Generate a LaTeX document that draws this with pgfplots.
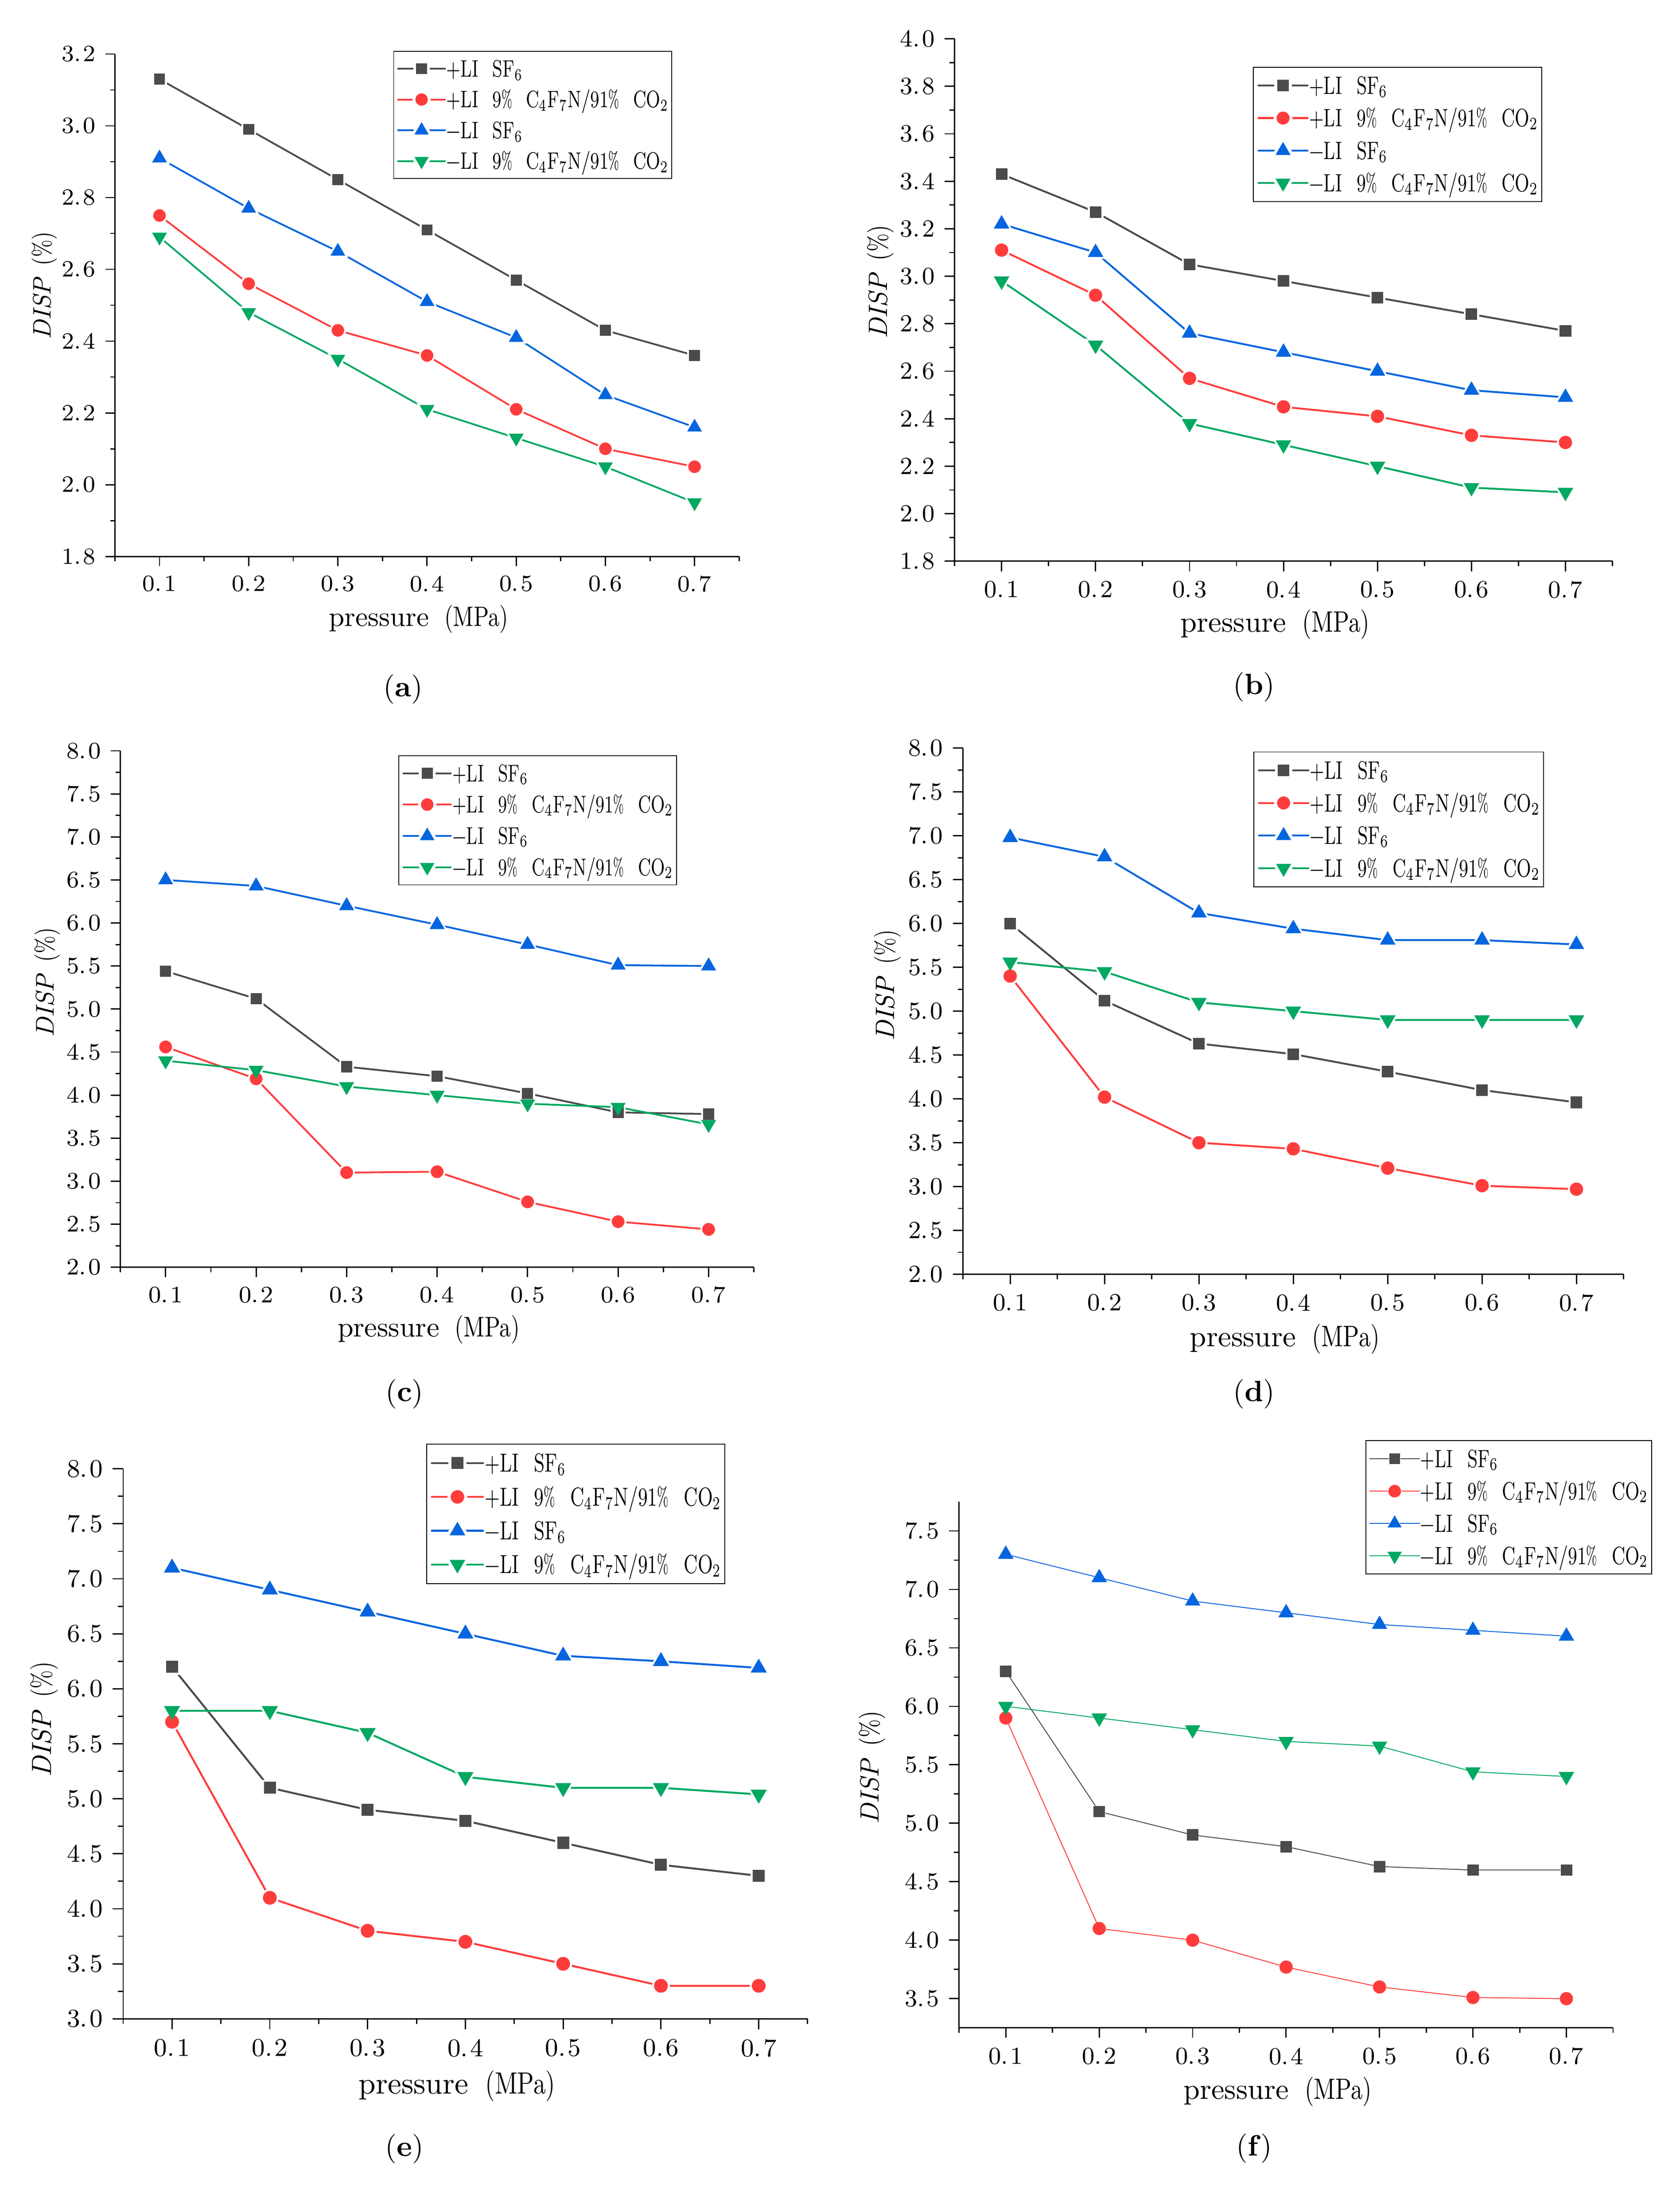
\documentclass[border=0pt]{standalone}
\usepackage{fontspec}
\setmainfont{Latin Modern Roman}
\usepackage{graphicx}
\usepackage{pgfplots}
\pgfplotsset{compat=1.18}
\definecolor{cgrey}{HTML}{4B4B4B}
\definecolor{cred}{HTML}{FF3C3C}
\definecolor{cblue}{HTML}{0465DF}
\definecolor{cgreen}{HTML}{00A862}
\def\sc{1}\def\lw{0.63}\def\hw{1.0}
\newcommand\fs[1]{\fontsize{\fpeval{#1*\sc}pt}{\fpeval{#1*\sc*1.2}pt}\selectfont}
\newcommand\gap{\hspace{0.81em}}
\newcommand\pc{\scalebox{0.7}[1]{\%}}
\newcommand\sq[1]{\scalebox{0.72}[1]{#1}}
\newcommand\eA{\sq{+LI\gap SF\textsubscript{6}}}
\newcommand\eB{\sq{+LI\gap 9\pc\gap C\textsubscript{4}F\textsubscript{7}N/91\pc\gap CO\textsubscript{2}}}
\newcommand\eC{\sq{\textminus LI\gap SF\textsubscript{6}}}
\newcommand\eD{\sq{\textminus LI\gap 9\pc\gap C\textsubscript{4}F\textsubscript{7}N/91\pc\gap CO\textsubscript{2}}}
\newcommand\dt{.\kern0.8pt}
\pgfplotsset{
 panel/.style={
  scale only axis, clip=false,
  axis x line*=bottom, axis y line*=left,
  tick align=outside,
  axis line style={line width=0.45pt, black},
  every tick/.style={black, line width=0.45pt},
  major tick length=\fpeval{3.4*\sc}pt,
  minor tick length=\fpeval{1.7*\sc}pt,
  xmin=0.05, xmax=0.75,
  xtick={0.1,0.2,0.3,0.4,0.5,0.6,0.7},
  xticklabels={0\dt1,0\dt2,0\dt3,0\dt4,0\dt5,0\dt6,0\dt7},
  minor xtick={0.05,0.15,0.25,0.35,0.45,0.55,0.65,0.75},
  minor y tick num=1,
  tick label style={font=\fs{8.3}},
  xlabel={pressure\hspace{0.55em}\scalebox{0.8}[1]{(MPa)}},
  ylabel={\textit{DISP}\hspace{0.45em}\scalebox{0.8}[1]{(\%)}},
  xlabel style={font=\fs{10}, anchor=base},
  ylabel style={font=\fs{9}, anchor=center},
  legend cell align=left,
  legend style={anchor=north west, draw=black, line width=0.3pt, fill=white,
     inner xsep=\fpeval{1.1*\sc}pt, inner ysep=\fpeval{1.2*\sc}pt,
     row sep=\fpeval{1.0*\sc}pt, font=\fs{8.5},
     nodes={inner sep=0pt, text height=\fpeval{7.9*\sc}pt, text depth=\fpeval{2.1*\sc}pt}},
  legend image code/.code={\draw[mark repeat=2,mark phase=2,##1] plot coordinates {(0pt,0pt) (\fpeval{8.575*\sc}pt,0pt) (\fpeval{17.15*\sc}pt,0pt)};},
 },
 % combined styles (legend images)
 sA/.style={draw=cgrey, line width=\fpeval{\lw*\sc}pt, mark=square*, mark size=\fpeval{(1.93+\hw/2)*\sc}pt, mark options={solid, fill=cgrey, draw=white, line width=\fpeval{\hw*\sc}pt}},
 sB/.style={draw=cred, line width=\fpeval{\lw*\sc}pt, mark=*, mark size=\fpeval{(2.22+\hw/2)*\sc}pt, mark options={solid, fill=cred, draw=white, line width=\fpeval{\hw*\sc}pt}},
 sC/.style={draw=cblue, line width=\fpeval{\lw*\sc}pt, mark=triangle*, mark size=\fpeval{(2.97+\hw)*\sc}pt, mark options={solid, fill=cblue, draw=white, line width=\fpeval{\hw*\sc}pt}},
 sD/.style={draw=cgreen, line width=\fpeval{\lw*\sc}pt, mark=triangle*, mark size=\fpeval{(2.97+\hw)*\sc}pt, mark options={solid, rotate=180, fill=cgreen, draw=white, line width=\fpeval{\hw*\sc}pt}},
 % lines with white gap marks
 lA/.style={forget plot, draw=cgrey, line width=\fpeval{\lw*\sc}pt, mark=square*, mark size=\fpeval{(1.93+\hw*0.63)*\sc}pt, mark options={solid, fill=white, draw=white, line width=0.1pt}},
 lB/.style={forget plot, draw=cred, line width=\fpeval{\lw*\sc}pt, mark=*, mark size=\fpeval{(2.22+\hw*0.63)*\sc}pt, mark options={solid, fill=white, draw=white, line width=0.1pt}},
 lC/.style={forget plot, draw=cblue, line width=\fpeval{\lw*\sc}pt, mark=triangle*, mark size=\fpeval{(2.97+\hw*1.26)*\sc}pt, mark options={solid, fill=white, draw=white, line width=0.1pt}},
 lD/.style={forget plot, draw=cgreen, line width=\fpeval{\lw*\sc}pt, mark=triangle*, mark size=\fpeval{(2.97+\hw*1.26)*\sc}pt, mark options={solid, rotate=180, fill=white, draw=white, line width=0.1pt}},
 % coloured marks only
 mA/.style={forget plot, only marks, mark=square*, mark size=\fpeval{1.88*\sc}pt, mark options={solid, fill=cgrey, draw=cgrey, line width=0.15pt}},
 mB/.style={forget plot, only marks, mark=*, mark size=\fpeval{2.17*\sc}pt, mark options={solid, fill=cred, draw=cred, line width=0.15pt}},
 mC/.style={forget plot, only marks, mark=triangle*, mark size=\fpeval{2.9*\sc}pt, mark options={solid, fill=cblue, draw=cblue, line width=0.15pt}},
 mD/.style={forget plot, only marks, mark=triangle*, mark size=\fpeval{2.9*\sc}pt, mark options={solid, rotate=180, fill=cgreen, draw=cgreen, line width=0.15pt}},
}
\pgfplotstableread{
x a b c d
0.1 3.13 2.75 2.91 2.69
0.2 2.99 2.56 2.77 2.48
0.3 2.85 2.43 2.65 2.35
0.4 2.71 2.36 2.51 2.21
0.5 2.57 2.21 2.41 2.13
0.6 2.43 2.10 2.25 2.05
0.7 2.36 2.05 2.16 1.95
}\tA
\pgfplotstableread{
x a b c d
0.1 3.43 3.11 3.22 2.98
0.2 3.27 2.92 3.10 2.71
0.3 3.05 2.57 2.76 2.38
0.4 2.98 2.45 2.68 2.29
0.5 2.91 2.41 2.60 2.20
0.6 2.84 2.33 2.52 2.11
0.7 2.77 2.30 2.49 2.09
}\tB
\pgfplotstableread{
x a b c d
0.1 5.44 4.56 6.50 4.40
0.2 5.12 4.19 6.43 4.29
0.3 4.33 3.10 6.20 4.10
0.4 4.22 3.11 5.98 4.00
0.5 4.02 2.76 5.75 3.90
0.6 3.80 2.53 5.51 3.86
0.7 3.78 2.44 5.50 3.66
}\tC
\pgfplotstableread{
x a b c d
0.1 6.00 5.40 6.98 5.56
0.2 5.12 4.02 6.76 5.45
0.3 4.63 3.50 6.12 5.10
0.4 4.51 3.43 5.94 5.00
0.5 4.31 3.21 5.81 4.90
0.6 4.10 3.01 5.81 4.90
0.7 3.96 2.97 5.76 4.90
}\tD
\pgfplotstableread{
x a b c d
0.1 6.20 5.70 7.10 5.80
0.2 5.10 4.10 6.90 5.80
0.3 4.90 3.80 6.70 5.60
0.4 4.80 3.70 6.50 5.20
0.5 4.60 3.50 6.30 5.10
0.6 4.40 3.30 6.25 5.10
0.7 4.30 3.30 6.19 5.04
}\tE
\pgfplotstableread{
x a b c d
0.1 6.30 5.90 7.30 6.00
0.2 5.10 4.10 7.10 5.90
0.3 4.90 4.00 6.90 5.80
0.4 4.80 3.77 6.80 5.70
0.5 4.63 3.60 6.70 5.66
0.6 4.60 3.51 6.65 5.44
0.7 4.60 3.50 6.60 5.40
}\tF
\newcommand\series[1]{%
\addplot[lA] table[x=x,y=a] {#1};
\addplot[lB] table[x=x,y=b] {#1};
\addplot[lC] table[x=x,y=c] {#1};
\addplot[lD] table[x=x,y=d] {#1};
\addplot[mA] table[x=x,y=a] {#1};
\addplot[mB] table[x=x,y=b] {#1};
\addplot[mC] table[x=x,y=c] {#1};
\addplot[mD] table[x=x,y=d] {#1};
\addlegendimage{sA}\addlegendentry{\eA}
\addlegendimage{sB}\addlegendentry{\eB}
\addlegendimage{sC}\addlegendentry{\eC}
\addlegendimage{sD}\addlegendentry{\eD}
}
\begin{document}
\begin{tikzpicture}
\path[use as bounding box] (0pt,0pt) rectangle (600pt,-781.35pt);

% (a)
\def\sc{1}
\begin{axis}[panel, at={(41.05pt,-198.8pt)}, anchor=south west, width=223pt, height=179.5pt,
 ymin=1.8, ymax=3.2, ytick={1.8,2.0,2.2,2.4,2.6,2.8,3.0,3.2},
 yticklabels={1\dt8,2\dt0,2\dt2,2\dt4,2\dt6,2\dt8,3\dt0,3\dt2},
 xlabel style={at={(axis description cs:0.5,0)}, yshift=-24.9pt, xshift=-3pt},
 ylabel style={at={(axis description cs:-0.1126,0.5387)}},
 legend style={at={(axis description cs:0.4458,1.0061)}}]
\series{\tA}
\end{axis}

% (b)
\def\sc{1.055}
\begin{axis}[panel, at={(341pt,-200.5pt)}, anchor=south west, width=235pt, height=186.65pt,
 ymin=1.8, ymax=4.0, ytick={1.8,2.0,2.2,2.4,2.6,2.8,3.0,3.2,3.4,3.6,3.8,4.0},
 yticklabels={1\dt8,2\dt0,2\dt2,2\dt4,2\dt6,2\dt8,3\dt0,3\dt2,3\dt4,3\dt6,3\dt8,4\dt0},
 xlabel style={at={(axis description cs:0.5,0)}, yshift=-25.25pt, xshift=-3pt},
 ylabel style={at={(axis description cs:-0.1128,0.5344)}},
 legend style={at={(axis description cs:0.4538,0.9462)}}]
\series{\tB}
\end{axis}

% (c)
\def\sc{1.017}
\begin{axis}[panel, at={(43pt,-452.75pt)}, anchor=south west, width=226.3pt, height=184.5pt,
 ymin=2, ymax=8, ytick={2,2.5,3,3.5,4,4.5,5,5.5,6,6.5,7,7.5,8},
 yticklabels={2\dt0,2\dt5,3\dt0,3\dt5,4\dt0,4\dt5,5\dt0,5\dt5,6\dt0,6\dt5,7\dt0,7\dt5,8\dt0},
 xlabel style={at={(axis description cs:0.5,0)}, yshift=-24.75pt, xshift=-3pt},
 ylabel style={at={(axis description cs:-0.1149,0.5515)}},
 legend style={at={(axis description cs:0.4388,0.9916)}}]
\series{\tC}
\end{axis}

% (d)
\def\sc{1.06}
\begin{axis}[panel, at={(344pt,-455.25pt)}, anchor=south west, width=236pt, height=188pt,
 ymin=2, ymax=8, ytick={2,2.5,3,3.5,4,4.5,5,5.5,6,6.5,7,7.5,8},
 yticklabels={2\dt0,2\dt5,3\dt0,3\dt5,4\dt0,4\dt5,5\dt0,5\dt5,6\dt0,6\dt5,7\dt0,7\dt5,8\dt0},
 xlabel style={at={(axis description cs:0.5,0)}, yshift=-25.75pt, xshift=-3pt},
 ylabel style={at={(axis description cs:-0.1144,0.5492)}},
 legend style={at={(axis description cs:0.4398,0.9934)}}]
\series{\tD}
\end{axis}

% (e)
\def\sc{1.098}
\begin{axis}[panel, at={(44pt,-721.25pt)}, anchor=south west, width=244.5pt, height=196.5pt,
 ymin=3, ymax=8, ytick={3,3.5,4,4.5,5,5.5,6,6.5,7,7.5,8},
 yticklabels={3\dt0,3\dt5,4\dt0,4\dt5,5\dt0,5\dt5,6\dt0,6\dt5,7\dt0,7\dt5,8\dt0},
 xlabel style={at={(axis description cs:0.5,0)}, yshift=-26.75pt, xshift=-3pt},
 ylabel style={at={(axis description cs:-0.1153,0.5445)}},
 legend style={at={(axis description cs:0.4429,1.0458)}}]
\series{\tE}
\end{axis}

% (f)
\def\sc{1.05}\def\lw{0.3}\def\hw{0}
\begin{axis}[panel, at={(342.6pt,-724.5pt)}, anchor=south west, width=233.65pt, height=188pt,
 ymin=3.25, ymax=7.75, ytick={3.5,4,4.5,5,5.5,6,6.5,7,7.5},
 yticklabels={3\dt5,4\dt0,4\dt5,5\dt0,5\dt5,6\dt0,6\dt5,7\dt0,7\dt5},
 xlabel style={at={(axis description cs:0.5,0)}, yshift=-25.5pt, xshift=-3pt},
 ylabel style={at={(axis description cs:-0.1331,0.4947)}},
 legend style={at={(axis description cs:0.6212,1.1170)}}]
\series{\tF}
\end{axis}

\node[font=\fontsize{10.5}{12}\selectfont] at (144pt,-246.25pt) {(\textbf{a})};
\node[font=\fontsize{10.5}{12}\selectfont] at (448pt,-245.5pt) {(\textbf{b})};
\node[font=\fontsize{10.5}{12}\selectfont] at (144.5pt,-498pt) {(\textbf{c})};
\node[font=\fontsize{10.5}{12}\selectfont] at (448pt,-498pt) {(\textbf{d})};
\node[font=\fontsize{10.5}{12}\selectfont] at (144.5pt,-767.75pt) {(\textbf{e})};
\node[font=\fontsize{10.5}{12}\selectfont] at (448pt,-767.5pt) {(\textbf{f})};
\end{tikzpicture}
\end{document}
